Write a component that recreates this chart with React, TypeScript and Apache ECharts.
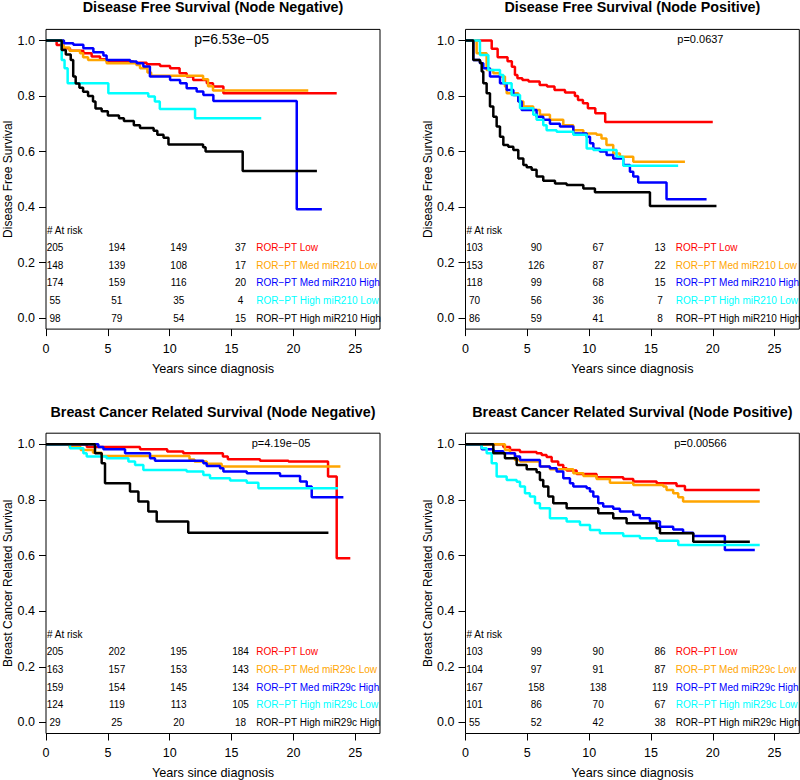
import React, { useEffect, useRef } from "react";
import * as echarts from "echarts";

// ---------- data ----------
const groupColors = ["#FF0000", "#FFA500", "#0000FF", "#00FFFF", "#000000"];
const xTickValues = [0, 5, 10, 15, 20, 25];
const yTickValues = [0, 0.2, 0.4, 0.6, 0.8, 1.0];
const atRiskTimes = [0, 5, 10, 15];

const panelTitles = [
  "Disease Free Survival (Node Negative)",
  "Disease Free Survival (Node Positive)",
  "Breast Cancer Related Survival (Node Negative)",
  "Breast Cancer Related Survival (Node Positive)",
];
const yAxisNames = [
  "Disease Free Survival",
  "Disease Free Survival",
  "Breast Cancer Related Survival",
  "Breast Cancer Related Survival",
];
const xAxisName = "Years since diagnosis";
const pValues = ["p=6.53e\u221205", "p=0.0637", "p=4.19e\u221205", "p=0.00566"];
const pValueYears = [15, 19, 19, 19];

const labels210 = [
  "ROR\u2212PT Low",
  "ROR\u2212PT Med miR210 Low",
  "ROR\u2212PT Med miR210 High",
  "ROR\u2212PT High miR210 Low",
  "ROR\u2212PT High miR210 High",
];
const labels29c = [
  "ROR\u2212PT Low",
  "ROR\u2212PT Med miR29c Low",
  "ROR\u2212PT Med miR29c High",
  "ROR\u2212PT High miR29c Low",
  "ROR\u2212PT High miR29c High",
];

// at-risk tables (rows: groups, cols: 0,5,10,15 years)
const atRiskDfsNeg = [
  [205, 194, 149, 37],
  [148, 139, 108, 17],
  [174, 159, 116, 20],
  [55, 51, 35, 4],
  [98, 79, 54, 15],
];
const atRiskDfsPos = [
  [103, 90, 67, 13],
  [153, 126, 87, 22],
  [118, 99, 68, 15],
  [70, 56, 36, 7],
  [86, 59, 41, 8],
];
const atRiskBcsNeg = [
  [205, 202, 195, 184],
  [163, 157, 153, 143],
  [159, 154, 145, 134],
  [124, 119, 113, 105],
  [29, 25, 20, 18],
];
const atRiskBcsPos = [
  [103, 99, 90, 86],
  [104, 97, 91, 87],
  [167, 158, 138, 119],
  [101, 86, 70, 67],
  [55, 52, 42, 38],
];

// KM curves [years, survival]
const dfsNegLow = [[0,1],[0.86,0.984],[1.4,0.972],[1.94,0.963],[3.02,0.954],[3.69,0.942],[4.37,0.932],[4.9,0.924],[7.06,0.92],[8.14,0.914],[9.22,0.908],[10.03,0.9],[10.8,0.882],[11.37,0.87],[11.9,0.858],[13.0,0.846],[13.5,0.834],[14.34,0.81],[23.5,0.81]];
const dfsNegMedLow = [[0,1],[1.4,0.975],[1.9,0.963],[2.75,0.954],[3.0,0.94],[3.4,0.93],[4.9,0.918],[7.3,0.912],[7.6,0.9],[8.2,0.885],[8.5,0.873],[12.7,0.86],[13.1,0.835],[13.5,0.82],[21.2,0.82]];
const dfsNegMedHigh = [[0,1],[1.45,0.99],[2.21,0.985],[3.02,0.972],[3.83,0.958],[4.64,0.946],[4.9,0.93],[6.8,0.924],[7.33,0.918],[7.87,0.906],[8.4,0.87],[10.03,0.858],[10.84,0.846],[11.37,0.828],[12.18,0.816],[12.72,0.804],[13.53,0.782],[20.27,0.392],[22.3,0.392]];
const dfsNegHighLow = [[0,1],[1.27,0.93],[1.5,0.9],[1.75,0.846],[5.04,0.81],[8.27,0.798],[8.8,0.78],[9.2,0.753],[12.05,0.72],[17.4,0.72]];
const dfsNegHighHigh = [[0,1],[1.27,0.966],[1.6,0.95],[2.0,0.93],[2.2,0.87],[2.4,0.845],[2.7,0.83],[3.0,0.815],[3.4,0.8],[3.8,0.78],[4.0,0.755],[4.5,0.745],[5.0,0.73],[5.9,0.72],[6.3,0.71],[7.1,0.695],[7.6,0.685],[8.7,0.675],[9.0,0.66],[9.5,0.65],[9.9,0.625],[12.7,0.615],[12.9,0.6],[15.9,0.53],[21.9,0.53]];

const dfsPosLow = [[0,1],[2.12,0.97],[2.6,0.94],[3.4,0.925],[3.75,0.905],[4.0,0.876],[4.2,0.864],[4.6,0.858],[5.1,0.852],[6.0,0.84],[6.6,0.834],[7.2,0.822],[8.05,0.813],[8.85,0.8],[9.1,0.786],[9.5,0.774],[9.9,0.756],[10.5,0.738],[11.3,0.706],[20.0,0.706]];
const dfsPosMedLow = [[0,1],[0.9,0.954],[1.71,0.894],[2.25,0.882],[2.79,0.87],[3.19,0.834],[3.33,0.81],[4.27,0.78],[4.68,0.762],[5.48,0.75],[6.02,0.732],[6.83,0.714],[7.91,0.695],[8.72,0.677],[9.53,0.665],[10.6,0.66],[11.0,0.647],[11.4,0.623],[11.95,0.593],[12.49,0.581],[13.57,0.563],[17.75,0.563]];
const dfsPosMedHigh = [[0,1],[0.63,0.93],[1.17,0.918],[1.44,0.9],[1.98,0.87],[2.79,0.846],[3.33,0.822],[3.87,0.804],[4.27,0.78],[4.54,0.75],[5.75,0.725],[6.29,0.714],[6.83,0.7],[7.64,0.69],[8.72,0.665],[9.8,0.653],[10.07,0.63],[10.34,0.61],[10.87,0.6],[11.41,0.587],[11.95,0.575],[12.76,0.551],[13.3,0.527],[13.57,0.51],[13.97,0.488],[16.26,0.428],[19.5,0.428]];
const dfsPosHighLow = [[0,1],[1.17,0.948],[1.85,0.894],[2.79,0.876],[3.06,0.846],[3.73,0.804],[4.41,0.756],[5.48,0.732],[5.75,0.714],[6.29,0.695],[6.56,0.677],[7.37,0.671],[8.72,0.66],[9.8,0.611],[10.34,0.605],[12.22,0.581],[12.76,0.549],[17.2,0.549]];
const dfsPosHighHigh = [[0,1],[0.63,0.93],[1.17,0.92],[1.31,0.888],[1.44,0.846],[1.71,0.81],[1.98,0.762],[2.25,0.725],[2.52,0.69],[2.79,0.653],[3.06,0.623],[3.46,0.617],[3.87,0.605],[4.27,0.575],[4.68,0.551],[4.95,0.543],[5.35,0.534],[5.75,0.51],[6.29,0.495],[7.24,0.485],[8.18,0.479],[9.53,0.467],[10.47,0.453],[14.92,0.404],[20.3,0.404]];

const bcsNegLow = [[0,1],[3.3,0.99],[7.6,0.982],[9.8,0.974],[11.1,0.968],[14.3,0.956],[14.7,0.946],[17.3,0.941],[19.6,0.938],[22.8,0.884],[23.5,0.59],[24.6,0.59]];
const bcsNegMedLow = [[0,1],[1.9,0.99],[2.8,0.98],[3.8,0.97],[4.5,0.958],[11.6,0.945],[12.0,0.938],[13.0,0.93],[14.2,0.92],[23.8,0.92]];
const bcsNegMedHigh = [[0,1],[4.23,0.99],[4.64,0.982],[6.39,0.968],[8.41,0.95],[8.81,0.941],[12.72,0.932],[12.99,0.922],[14.07,0.914],[14.34,0.902],[16.23,0.896],[18.92,0.886],[20.54,0.866],[21.08,0.848],[21.48,0.81],[24.04,0.81]];
const bcsNegHighLow = [[0,1],[1.94,0.986],[3.02,0.968],[3.29,0.956],[4.9,0.95],[6.66,0.938],[7.2,0.926],[7.87,0.908],[11.37,0.902],[12.72,0.89],[13.26,0.878],[14.88,0.87],[16.23,0.862],[17.17,0.842],[23.6,0.842]];
const bcsNegHighHigh = [[0,1],[3.96,0.968],[4.5,0.932],[4.77,0.86],[6.79,0.83],[7.47,0.794],[8.27,0.758],[8.95,0.722],[11.5,0.682],[22.83,0.682]];

const bcsPosLow = [[0,1],[3.06,0.99],[3.6,0.98],[4.41,0.972],[5.75,0.968],[6.16,0.962],[6.56,0.954],[6.97,0.938],[7.5,0.926],[7.91,0.914],[8.18,0.906],[8.99,0.893],[10.6,0.882],[12.76,0.875],[13.57,0.866],[15.46,0.86],[17.07,0.85],[17.75,0.836],[23.8,0.836]];
const bcsPosMedLow = [[0,1],[3.19,0.98],[3.6,0.968],[4.0,0.944],[4.41,0.938],[6.02,0.92],[6.83,0.91],[8.72,0.896],[9.53,0.886],[10.6,0.875],[11.68,0.862],[13.57,0.854],[16.0,0.848],[16.26,0.836],[16.8,0.824],[17.21,0.81],[17.6,0.794],[23.8,0.794]];
const bcsPosMedHigh = [[0,1],[1.31,0.982],[2.25,0.975],[3.06,0.968],[4.0,0.956],[4.41,0.944],[6.02,0.92],[6.83,0.914],[7.37,0.902],[7.91,0.878],[8.45,0.86],[8.72,0.848],[9.8,0.842],[10.07,0.83],[10.34,0.812],[10.74,0.788],[11.14,0.776],[11.95,0.768],[12.49,0.758],[13.57,0.746],[14.1,0.734],[14.92,0.722],[15.73,0.704],[16.8,0.694],[17.6,0.682],[18.42,0.67],[20.98,0.62],[23.4,0.62]];
const bcsPosHighLow = [[0,1],[1.31,0.986],[1.71,0.968],[2.12,0.932],[2.52,0.884],[3.33,0.872],[4.14,0.865],[4.41,0.848],[4.81,0.824],[5.21,0.812],[5.62,0.788],[6.02,0.77],[6.83,0.734],[8.18,0.722],[9.26,0.71],[10.07,0.692],[10.87,0.68],[12.76,0.67],[14.11,0.662],[15.46,0.653],[17.21,0.638],[23.8,0.638]];
const bcsPosHighHigh = [[0,1],[2.25,0.968],[3.19,0.95],[4.14,0.926],[4.95,0.91],[5.75,0.9],[6.02,0.872],[6.29,0.848],[6.7,0.812],[7.1,0.788],[8.18,0.77],[10.74,0.752],[11.95,0.734],[13.03,0.716],[15.46,0.698],[15.73,0.68],[18.42,0.65],[23.0,0.65]];

const panelCurves = [
  [dfsNegLow, dfsNegMedLow, dfsNegMedHigh, dfsNegHighLow, dfsNegHighHigh],
  [dfsPosLow, dfsPosMedLow, dfsPosMedHigh, dfsPosHighLow, dfsPosHighHigh],
  [bcsNegLow, bcsNegMedLow, bcsNegMedHigh, bcsNegHighLow, bcsNegHighHigh],
  [bcsPosLow, bcsPosMedLow, bcsPosMedHigh, bcsPosHighLow, bcsPosHighHigh],
];
const panelAtRisk = [atRiskDfsNeg, atRiskDfsPos, atRiskBcsNeg, atRiskBcsPos];
const panelLabels = [labels210, labels210, labels29c, labels29c];

// ---------- layout / style ----------
const FONT = "'Liberation Sans', Arial, Helvetica, sans-serif";
const X_MAX = 27;
const Y_MIN = -0.04;
const Y_MAX = 1.04;
const LABEL_X_YEAR = 17;
// plot boxes (the grid is the whole R plot box)
const layout = [
  { left: 46, top: 29.4, width: 334, height: 299.7 },
  { left: 465.5, top: 29.4, width: 333.8, height: 299.7 },
  { left: 46, top: 433.2, width: 334, height: 300.3 },
  { left: 465.5, top: 433.2, width: 333.8, height: 300.3 },
];
const ROW_H = 17.6;

function buildOption() {
  const grid: any[] = [];
  const xAxis: any[] = [];
  const yAxis: any[] = [];
  const series: any[] = [];
  const graphic: any[] = [];

  layout.forEach((L, i) => {
    grid.push({ left: L.left, top: L.top, width: L.width, height: L.height, outerBoundsMode: "none", containLabel: false });
    xAxis.push({
      type: "value", gridIndex: i, min: 0, max: X_MAX, position: "bottom",
      axisLine: { show: false, onZero: false },
      axisTick: { show: true, length: 7, inside: false, customValues: xTickValues, lineStyle: { color: "#000", width: 1 } },
      axisLabel: { show: true, customValues: xTickValues, fontSize: 12.5, color: "#000", fontFamily: FONT, margin: 13 },
      splitLine: { show: false },
    });
    yAxis.push({
      type: "value", gridIndex: i, min: Y_MIN, max: Y_MAX, position: "left",
      axisLine: { show: false, onZero: false },
      axisTick: { show: true, length: 7, inside: false, customValues: yTickValues, lineStyle: { color: "#000", width: 1 } },
      axisLabel: { show: true, customValues: yTickValues, fontSize: 12.5, color: "#000", fontFamily: FONT, margin: 11, formatter: (v: number) => v.toFixed(1) },
      splitLine: { show: false },
    });

    panelCurves[i].forEach((curve, g) => {
      series.push({
        type: "line", xAxisIndex: i, yAxisIndex: i, data: curve, step: "end",
        showSymbol: false, symbol: "none", silent: true,
        lineStyle: { color: groupColors[g], width: 2.5 },
        itemStyle: { color: groupColors[g] },
      });
    });

    // at-risk table
    const tbl = panelAtRisk[i];
    const lbls = panelLabels[i];
    const data: number[][] = [[0, -1, -1]];
    tbl.forEach((row, r) => {
      row.forEach((_, c) => data.push([atRiskTimes[c], r, c]));
      data.push([LABEL_X_YEAR, r, 4]);
    });
    series.push({
      type: "custom", xAxisIndex: i, yAxisIndex: i, silent: true, clip: false,
      data,
      renderItem: (params: any, api: any) => {
        const t = api.value(0);
        const r = api.value(1);
        const c = api.value(2);
        const base = api.coord([t, 0]);
        const y = base[1] - (4 - r) * ROW_H;
        let text = "";
        let x = base[0];
        let align = "center";
        let fill = "#000";
        if (r < 0) {
          text = "# At risk";
          x = base[0] + 1;
          align = "left";
        } else if (c === 4) {
          text = lbls[r];
          align = "left";
          fill = groupColors[r];
        } else {
          text = String(tbl[r][c]);
          x = base[0] + 9;
        }
        return {
          type: "text", x, y,
          style: { text, fill, fontSize: 10, fontFamily: FONT, align, verticalAlign: "middle" },
        };
      },
    });

    // box
    graphic.push({
      type: "rect", silent: true, z: 100,
      shape: { x: L.left, y: L.top, width: L.width, height: L.height },
      style: { fill: "none", stroke: "#000", lineWidth: 1 },
    });
    const cx = L.left + L.width / 2;
    const titleY = i < 2 ? 7 : 412;
    const yPerUnit = L.height / (Y_MAX - Y_MIN);
    const yOne = L.top + (Y_MAX - 1) * yPerUnit;
    graphic.push({
      type: "text", x: cx, y: titleY, silent: true,
      style: { text: panelTitles[i], fill: "#000", font: `bold 14.3px ${FONT}`, align: "center", verticalAlign: "middle" },
    });
    graphic.push({
      type: "text", x: cx, y: L.top + L.height + 39.5, silent: true,
      style: { text: xAxisName, fill: "#000", font: `12.7px ${FONT}`, align: "center", verticalAlign: "middle" },
    });
    graphic.push({
      type: "text", x: i % 2 === 0 ? 8 : 428, y: L.top + L.height / 2, rotation: Math.PI / 2, silent: true,
      style: { text: yAxisNames[i], fill: "#000", font: `12px ${FONT}`, align: "center", verticalAlign: "middle" },
    });
    graphic.push({
      type: "text", x: L.left + (pValueYears[i] / X_MAX) * L.width, y: yOne - 1.5, silent: true,
      style: { text: pValues[i], fill: "#000", font: `${i === 0 ? 14 : 11}px ${FONT}`, align: "center", verticalAlign: "middle" },
    });
  });

  return {
    animation: false,
    backgroundColor: "#fff",
    grid, xAxis, yAxis, series, graphic,
  };
}

export default function App() {
  const ref = useRef<HTMLDivElement>(null);
  useEffect(() => {
    if (!ref.current) return;
    const chart = echarts.init(ref.current, null, { renderer: "svg" });
    chart.setOption(buildOption() as any);
    return () => chart.dispose();
  }, []);
  return (
    <div
      ref={ref}
      style={{ position: "fixed", left: 0, top: 0, width: 800, height: 780, background: "#fff" }}
    />
  );
}
